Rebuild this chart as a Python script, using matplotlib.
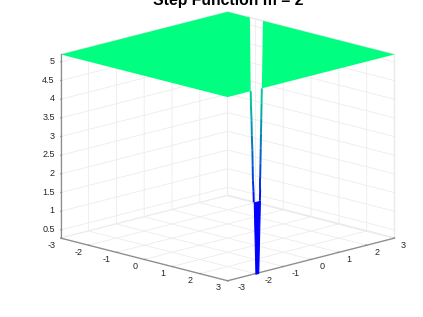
import matplotlib
matplotlib.use('Agg')
import matplotlib.pyplot as plt
from mpl_toolkits.mplot3d import proj3d
from mpl_toolkits.mplot3d.art3d import Poly3DCollection, Line3DCollection

#===== values =====
ticks_xy = [-3, -2, -1, 0, 1, 2, 3]
labels_xy = ['-3', '-2', '-1', '0', '1', '2', '3']
ticks_z = [0.5, 1, 1.5, 2, 2.5, 3, 3.5, 4, 4.5, 5]
labels_z = ['0.5', '1', '1.5', '2', '2.5', '3', '3.5', '4', '4.5', '5']
z_floor = 0.28
z_top = 5.2

# flat top, split in two by the slit
flat_left_x = [-3, 3, 3, -2.2, -3]
flat_left_y = [-3, -3, -2.17, 3, 3]
flat_right_x = [3, 3, -1.73]
flat_right_y = [-1.77, 3, 3]

# well: walls along x = 3
well_x = 3
well_z = [5.2, 4.8, 4.4, 4.0, 3.6, 3.2, 2.8, 2.5, 2.2]
well_left_y = [-2.17, -2.16, -2.14, -2.13, -2.11, -2.1, -2.09, -2.07, -2.06]
well_right_y = [-1.77, -1.78, -1.79, -1.8, -1.81, -1.82, -1.83, -1.83, -1.84]
well_colour = [0.78, 0.68, 0.58, 0.48, 0.38, 0.28, 0.18, 0.08, 0.0]

# solid foot of the well
foot_y = [-2.06, -1.84, -1.9, -2.0]
foot_z = [2.2, 2.2, 0.28, 0.28]

plt.rcParams['font.family'] = ['Liberation Sans', 'DejaVu Sans']
plt.rcParams['axes.unicode_minus'] = False
fig = plt.figure(figsize=(4.23, 3.17), dpi=100)
ax = fig.add_axes([0.028, 0.025, 1.0, 1.0], projection='3d')
ax.set_proj_type('ortho')
ax.view_init(elev=14.8, azim=-45)
ax.set_box_aspect((1, 1, 0.805), zoom=1.176)
ax.computed_zorder = False

top_colour = plt.cm.winter(1.0)
for xs, ys in [(flat_left_x, flat_left_y), (flat_right_x, flat_right_y)]:
    poly = Poly3DCollection([[(a, b, z_top) for a, b in zip(xs, ys)]],
                            facecolor=top_colour, edgecolor='none', zorder=3)
    ax.add_collection3d(poly)
    poly.set_clip_on(False)

for wall_y in [well_left_y, well_right_y]:
    segs = []
    for i in range(len(well_z) - 1):
        segs.append([(well_x, wall_y[i], well_z[i]), (well_x, wall_y[i + 1], well_z[i + 1])])
    lines = Line3DCollection(segs, cmap='winter', linewidths=1.4, zorder=4)
    lines.set_array(well_colour[:-1])
    lines.set_clim(0, 1)
    ax.add_collection3d(lines)

ax.add_collection3d(Poly3DCollection([[(well_x, b, c) for b, c in zip(foot_y, foot_z)]],
                                     facecolor=(0, 0, 1), edgecolor=(0, 0, 1), linewidth=0.8, zorder=5))

ax.set_xlim(-3, 3, view_margin=0)
ax.set_ylim(-3, 3, view_margin=0)
ax.set_zlim(z_floor, z_top, view_margin=0)
ax.set_xticks(ticks_xy)
ax.set_yticks(ticks_xy)
ax.set_zticks(ticks_z)
ax.set_xticklabels([''] * len(ticks_xy))
ax.set_yticklabels([''] * len(ticks_xy))
ax.set_zticklabels([''] * len(ticks_z))
ax.zaxis.set_ticks_position('lower')

for axis in [ax.xaxis, ax.yaxis, ax.zaxis]:
    axis.set_pane_color((1, 1, 1, 1))
    axis.pane.set_edgecolor('#e8e8e8')
    axis.line.set_color('#8c8c8c')
    axis.line.set_linewidth(0.9)
    axis._axinfo['grid']['color'] = '#ececec'
    axis._axinfo['grid']['linewidth'] = 0.6
    axis._axinfo['tick']['inward_factor'] = 0.0
    axis._axinfo['tick']['outward_factor'] = 0.06
    for tick in axis.get_major_ticks():
        tick.tick1line.set_color('#8c8c8c')
        tick.tick1line.set_markeredgewidth(0.5)


# tick labels placed by hand, the 3d axis only pushes them radially
def put_label(x, y, z, text, dx, dy, ha):
    px, py, _ = proj3d.proj_transform(x, y, z, ax.get_proj())
    ax.annotate(text, xy=(px, py), xycoords='data', xytext=(dx, dy),
                textcoords='offset pixels', ha=ha, va='center', fontsize=6.5,
                color='#262626', annotation_clip=False)


for t, lab in zip(ticks_xy, labels_xy):
    put_label(t, -3, z_floor, lab, -9.5, -7, 'center')
y_dx = [13.5, 13, 12, 11, 10, 10, 9]
for t, lab, dx in zip(ticks_xy, labels_xy, y_dx):
    put_label(3, t, z_floor, lab, dx, -7, 'center')
for t, lab in zip(ticks_z, labels_z):
    put_label(-3, -3, t, lab, -6, 0.5, 'right')

fig.text(0.54, 0.998, 'Step Function m = 2', fontsize=11.3, fontweight='bold',
         ha='center', va='center', color='black')

fig.savefig('out.png', dpi=100)
